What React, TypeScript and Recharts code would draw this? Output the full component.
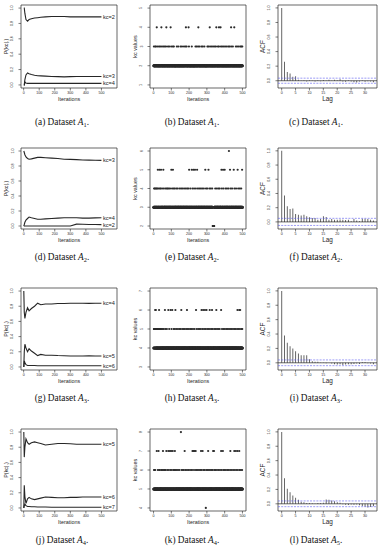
import React from 'react';
import {
  LineChart, Line, ScatterChart, Scatter, ComposedChart, Bar,
  XAxis, YAxis, ReferenceArea, ReferenceLine, LabelList,
} from 'recharts';

// ---------- data ----------
// iterations where the running probabilities were read off the traces
const iters = [1, 4, 8, 15, 25, 35, 50, 70, 90, 110, 140, 180, 220, 260, 300, 340, 380, 420, 460, 500];

// (a) A1: P(kc|.)
const a_kc2 = [1.0, 1.0, 0.93, 0.85, 0.83, 0.85, 0.86, 0.87, 0.875, 0.88, 0.885, 0.89, 0.89, 0.89, 0.885, 0.885, 0.885, 0.885, 0.885, 0.885];
const a_kc3 = [0.0, 0.0, 0.07, 0.13, 0.155, 0.145, 0.135, 0.125, 0.12, 0.118, 0.115, 0.11, 0.108, 0.105, 0.108, 0.11, 0.11, 0.11, 0.11, 0.11];
const a_kc4 = [0.0, 0.0, 0.04, 0.025, 0.02, 0.02, 0.02, 0.02, 0.02, 0.02, 0.02, 0.02, 0.02, 0.02, 0.02, 0.02, 0.02, 0.02, 0.02, 0.02];
// (d) A2
const d_kc3 = [1.0, 0.98, 0.95, 0.92, 0.9, 0.89, 0.895, 0.905, 0.915, 0.915, 0.91, 0.905, 0.9, 0.89, 0.888, 0.885, 0.88, 0.878, 0.876, 0.875];
const d_kc4 = [0.0, 0.02, 0.05, 0.08, 0.1, 0.12, 0.11, 0.1, 0.09, 0.09, 0.095, 0.1, 0.105, 0.11, 0.11, 0.11, 0.105, 0.105, 0.108, 0.11];
const d_kc2 = [0.0, 0.0, 0.0, 0.0, 0.0, 0.0, 0.0, 0.0, 0.0, 0.0, 0.0, 0.0, 0.0, 0.0, 0.0, 0.025, 0.023, 0.021, 0.019, 0.018];
// (g) A3
const g_kc4 = [1.0, 0.72, 0.64, 0.72, 0.78, 0.74, 0.77, 0.8, 0.84, 0.82, 0.83, 0.83, 0.835, 0.835, 0.84, 0.84, 0.84, 0.838, 0.84, 0.84];
const g_kc5 = [0.0, 0.2, 0.3, 0.25, 0.2, 0.24, 0.21, 0.18, 0.15, 0.165, 0.155, 0.155, 0.15, 0.148, 0.145, 0.145, 0.145, 0.147, 0.145, 0.145];
const g_kc6 = [0.0, 0.08, 0.06, 0.03, 0.02, 0.02, 0.02, 0.02, 0.015, 0.015, 0.015, 0.015, 0.015, 0.015, 0.015, 0.015, 0.015, 0.015, 0.015, 0.015];
// (j) A4
const j_kc5 = [1.0, 0.67, 0.8, 0.91, 0.86, 0.84, 0.86, 0.87, 0.86, 0.85, 0.83, 0.84, 0.85, 0.85, 0.845, 0.84, 0.84, 0.84, 0.84, 0.84];
const j_kc6 = [0.0, 0.3, 0.15, 0.06, 0.12, 0.14, 0.12, 0.11, 0.12, 0.13, 0.145, 0.14, 0.135, 0.135, 0.14, 0.14, 0.145, 0.145, 0.145, 0.145];
const j_kc7 = [0.0, 0.03, 0.05, 0.03, 0.02, 0.02, 0.015, 0.015, 0.012, 0.012, 0.012, 0.01, 0.01, 0.01, 0.01, 0.01, 0.01, 0.01, 0.01, 0.01];

// kc traces: iterations that sit off the modal value
const N_ITER = 500;
const b_kc3 = [2, 9, 14, 23, 31, 38, 47, 55, 63, 70, 81, 88, 99, 108, 114, 131, 139, 152, 160, 171, 179, 186, 199, 215, 236, 243, 251, 259, 270, 277, 286, 303, 309, 318, 327, 335, 344, 351, 362, 368, 379, 386, 395, 403, 412, 421, 428, 437, 446, 463, 470, 479, 488, 494, 499];
const b_kc4 = [18, 44, 72, 96, 182, 197, 252, 316, 353, 368, 377, 436, 454];
const e_kc4 = [3, 7, 12, 16, 21, 27, 35, 40, 48, 57, 66, 74, 79, 86, 93, 104, 112, 119, 128, 136, 147, 155, 163, 172, 181, 189, 196, 207, 219, 228, 238, 249, 257, 266, 274, 283, 295, 302, 314, 322, 330, 347, 356, 365, 372, 384, 393, 405, 413, 422, 434, 442, 455, 464, 476, 485, 493];
const e_kc5 = [24, 33, 42, 55, 100, 109, 200, 215, 224, 233, 245, 291, 309, 382, 391, 400, 430, 451, 473, 498];
const e_kc6 = [424];
const e_kc2 = [333, 334, 335, 336, 337, 338, 339, 340, 341];
const h_kc5 = [2, 4, 6, 7, 10, 15, 19, 22, 26, 29, 34, 37, 41, 46, 52, 58, 67, 75, 88, 101, 113, 120, 128, 137, 145, 152, 161, 169, 176, 184, 192, 199, 207, 214, 222, 231, 243, 251, 258, 266, 275, 284, 292, 301, 308, 317, 325, 332, 341, 349, 357, 364, 372, 385, 393, 401, 409, 416, 424, 431, 439, 447, 455, 462, 470, 478, 486, 494, 499];
const h_kc6 = [9, 13, 31, 64, 83, 96, 105, 123, 156, 188, 239, 270, 279, 289, 298, 316, 329, 353, 380, 472, 482, 487];
const k_kc6 = [3, 5, 9, 24, 31, 36, 44, 49, 57, 62, 68, 77, 86, 95, 103, 112, 117, 124, 131, 138, 146, 158, 165, 171, 180, 188, 196, 205, 213, 222, 233, 241, 249, 256, 264, 271, 280, 287, 296, 303, 311, 318, 326, 333, 342, 349, 357, 366, 374, 383, 392, 399, 407, 415, 423, 431, 440, 448, 457, 465, 474, 483, 491, 498];
const k_kc7 = [18, 28, 53, 72, 83, 92, 99, 108, 120, 175, 219, 224, 230, 237, 267, 276, 307, 335, 340, 380, 390, 432, 454, 463, 472, 482];
const k_kc8 = [154];
const k_kc4 = [294];

// autocorrelations, lags 0..33
const c_acf = [1.0, 0.26, 0.12, 0.1, 0.055, 0.06, 0.015, -0.005, 0.005, -0.01, 0.008, 0.004, -0.012, 0.006, -0.008, 0.01, -0.005, 0.012, 0.004, 0.015, 0.006, 0.02, -0.01, -0.015, 0.005, -0.012, -0.02, -0.025, -0.01, 0.006, -0.015, -0.008, -0.012, -0.02];
const f_acf = [1.0, 0.37, 0.22, 0.18, 0.19, 0.11, 0.1, 0.09, 0.1, 0.08, 0.065, 0.055, 0.055, 0.03, 0.04, 0.08, 0.07, 0.03, 0.04, 0.03, 0.03, 0.035, 0.03, 0.025, 0.03, 0.01, 0.04, 0.02, 0.01, 0.045, 0.045, 0.04, 0.03, 0.02];
const i_acf = [1.0, 0.38, 0.28, 0.23, 0.2, 0.16, 0.13, 0.105, 0.105, 0.105, 0.05, 0.02, 0.015, 0.015, 0.005, 0.003, -0.005, 0.002, -0.01, -0.02, -0.025, -0.02, -0.03, -0.025, -0.02, -0.02, -0.015, -0.01, -0.015, 0.01, 0.012, -0.005, -0.01, -0.02];
const l_acf = [1.0, 0.355, 0.21, 0.16, 0.115, 0.083, 0.055, 0.03, 0.02, 0.01, 0.012, 0.008, 0.005, 0.01, 0.012, 0.015, 0.06, 0.055, 0.045, 0.037, 0.023, 0.015, -0.005, -0.012, -0.015, -0.01, -0.012, -0.008, -0.02, -0.03, -0.04, -0.05, -0.045, -0.035];
const acfBounds = [0.035, 0.05, 0.04, 0.04];

const iterTicks = [0, 100, 200, 300, 400, 500];
const probTicks = [0, 0.2, 0.4, 0.6, 0.8, 1];
const lagTicks = [0, 5, 10, 15, 20, 25, 30];
const captions = [
  ['a', 'b', 'c'], ['d', 'e', 'f'], ['g', 'h', 'i'], ['j', 'k', 'l'],
];
const captionSubs = [['1', '1', '1'], ['2', '2', '2'], ['3', '3', '3'], ['4', '4', '5']];

// ---------- layout ----------
const INK = '#262626';
const SANS = '"Liberation Sans", Arial, sans-serif';
const SERIF = '"Liberation Serif", "Times New Roman", serif';

const COL_X = [21, 150, 278];
const COL_W = [96, 96, 99];
const ROW_Y = [5, 148, 288, 429];
const ROW_H = [83, 81, 82, 82];
const CAP_Y = [125, 260, 401, 543];
const CAP_X = [62, 192, 316];

const PL = 22, PT = 3, PR = 3, PB = 20;
const MARGIN = { top: PT, right: PR, left: 0, bottom: 0 };

type Box = { x: number; y: number; w: number; h: number };
const boxAt = (r: number, c: number): Box => ({ x: COL_X[c], y: ROW_Y[r], w: COL_W[c], h: ROW_H[r] });

function XTick(props: any) {
  const { x, y, payload } = props;
  return (
    <text x={x} y={y + 3} textAnchor="middle" fontSize={3.6} fontFamily={SANS} fill={INK}>
      {payload.value}
    </text>
  );
}

function YTick(props: any) {
  const { x, y, payload, digits } = props;
  const bx = x - 4.5;
  return (
    <text x={bx} y={y} transform={`rotate(-90 ${bx} ${y})`} textAnchor="middle" fontSize={3.6} fontFamily={SANS} fill={INK}>
      {payload.value.toFixed(digits)}
    </text>
  );
}

const tickLine = { stroke: INK, strokeWidth: 0.6 };
const boxStyle = { fill: 'none', fillOpacity: 0, stroke: INK, strokeWidth: 0.7 };

function Holder({ box, children }: { box: Box; children: React.ReactNode }) {
  return <div style={{ position: 'absolute', left: box.x - PL, top: box.y - PT }}>{children}</div>;
}

function TracePanel({ box, series, names }: { box: Box; series: number[][]; names: string[] }) {
  const data = iters.map((it, i) => {
    const row: Record<string, number> = { it };
    series.forEach((s, j) => { row[`s${j}`] = s[i]; });
    return row;
  });
  const xDom: [number, number] = [-17, 600];
  const yDom: [number, number] = [-0.04, 1.04];
  const last = iters.length - 1;
  return (
    <Holder box={box}>
      <LineChart width={box.w + PL + PR} height={box.h + PT + PB} data={data} margin={MARGIN}>
        <XAxis type="number" dataKey="it" domain={xDom} ticks={iterTicks} interval={0} height={PB}
          axisLine={false} tickLine={tickLine} tickSize={2.5} tickMargin={0.5} tick={<XTick />} allowDataOverflow />
        <YAxis type="number" domain={yDom} ticks={probTicks} interval={0} width={PL}
          axisLine={false} tickLine={tickLine} tickSize={2.5} tickMargin={0.5} tick={<YTick digits={1} />} allowDataOverflow />
        <ReferenceArea x1={xDom[0]} x2={xDom[1]} y1={yDom[0]} y2={yDom[1]} {...boxStyle} />
        {series.map((_, j) => (
          <Line key={j} dataKey={`s${j}`} type="linear" stroke={INK} strokeWidth={1.1} dot={false} isAnimationActive={false}>
            <LabelList dataKey={`s${j}`} content={(p: any) => (p.index === last ? (
              <text x={p.x + 1.5} y={p.y} dy="0.35em" fontSize={5.6} fontFamily={SANS} fill={INK}>{names[j]}</text>
            ) : null)} />
          </Line>
        ))}
      </LineChart>
    </Holder>
  );
}

function TraceDot(p: any) {
  return <circle cx={p.cx} cy={p.cy} r={p.rad} fill="#2a2a2a" stroke="none" />;
}

function KcPanel({ box, modal, others, yTicks }: { box: Box; modal: number; others: [number, number[]][]; yTicks: number[] }) {
  const taken = new Set(others.flatMap(([, its]) => its));
  const modalIts = Array.from({ length: N_ITER }, (_, i) => i + 1).filter((it) => !taken.has(it));
  const rows: [number, number[]][] = [[modal, modalIts], ...others];
  const xDom: [number, number] = [-20, 520];
  const yDom: [number, number] = [yTicks[0] - 0.16, yTicks[yTicks.length - 1] + 0.16];
  return (
    <Holder box={box}>
      <ScatterChart width={box.w + PL + PR} height={box.h + PT + PB} margin={MARGIN}>
        <XAxis type="number" dataKey="it" domain={xDom} ticks={iterTicks} interval={0} height={PB}
          axisLine={false} tickLine={tickLine} tickSize={2.5} tickMargin={0.5} tick={<XTick />} allowDataOverflow />
        <YAxis type="number" dataKey="kc" domain={yDom} ticks={yTicks} interval={0} width={PL}
          axisLine={false} tickLine={tickLine} tickSize={2.5} tickMargin={0.5} tick={<YTick digits={0} />} allowDataOverflow />
        <ReferenceArea x1={xDom[0]} x2={xDom[1]} y1={yDom[0]} y2={yDom[1]} {...boxStyle} />
        {rows.map(([kc, its], idx) => (
          <Scatter key={kc} data={its.map((it) => ({ it, kc }))} shape={<TraceDot rad={idx === 0 ? 1.5 : 1.1} />} isAnimationActive={false} />
        ))}
      </ScatterChart>
    </Holder>
  );
}

function AcfPanel({ box, acf, bound }: { box: Box; acf: number[]; bound: number }) {
  const data = acf.map((v, lag) => ({ lag, v }));
  const xDom: [number, number] = [-1.32, 34.32];
  const yDom: [number, number] = [-0.1, 1.04];
  return (
    <Holder box={box}>
      <ComposedChart width={box.w + PL + PR} height={box.h + PT + PB} data={data} margin={MARGIN}>
        <XAxis type="number" dataKey="lag" domain={xDom} ticks={lagTicks} interval={0} height={PB}
          axisLine={false} tickLine={tickLine} tickSize={2.5} tickMargin={0.5} tick={<XTick />} allowDataOverflow />
        <YAxis type="number" domain={yDom} ticks={probTicks} interval={0} width={PL}
          axisLine={false} tickLine={tickLine} tickSize={2.5} tickMargin={0.5} tick={<YTick digits={1} />} allowDataOverflow />
        <ReferenceArea x1={xDom[0]} x2={xDom[1]} y1={yDom[0]} y2={yDom[1]} {...boxStyle} />
        <Bar dataKey="v" barSize={0.9} fill="#555" isAnimationActive={false} />
        <ReferenceLine y={0} stroke={INK} strokeWidth={0.7} />
        <ReferenceLine y={bound} stroke="#5a5af0" strokeWidth={0.6} strokeDasharray="2 1.2" />
        <ReferenceLine y={-bound} stroke="#5a5af0" strokeWidth={0.6} strokeDasharray="2 1.2" />
      </ComposedChart>
    </Holder>
  );
}

const traceRows = [
  { series: [a_kc2, a_kc3, a_kc4], names: ['kc=2', 'kc=3', 'kc=4'] },
  { series: [d_kc3, d_kc4, d_kc2], names: ['kc=3', 'kc=4', 'kc=2'] },
  { series: [g_kc4, g_kc5, g_kc6], names: ['kc=4', 'kc=5', 'kc=6'] },
  { series: [j_kc5, j_kc6, j_kc7], names: ['kc=5', 'kc=6', 'kc=7'] },
];
const kcRows: { modal: number; others: [number, number[]][]; yTicks: number[] }[] = [
  { modal: 2, others: [[3, b_kc3], [4, b_kc4]], yTicks: [1, 2, 3, 4, 5] },
  { modal: 3, others: [[4, e_kc4], [5, e_kc5], [6, e_kc6], [2, e_kc2]], yTicks: [2, 3, 4, 5, 6] },
  { modal: 4, others: [[5, h_kc5], [6, h_kc6]], yTicks: [3, 4, 5, 6, 7] },
  { modal: 5, others: [[6, k_kc6], [7, k_kc7], [8, k_kc8], [4, k_kc4]], yTicks: [4, 5, 6, 7, 8] },
];
const acfRows = [c_acf, f_acf, i_acf, l_acf];

function Titles() {
  const out: React.ReactNode[] = [];
  ROW_Y.forEach((ry, r) => {
    const bottom = ry + ROW_H[r];
    const mid = ry + ROW_H[r] / 2;
    const yTitles = ['P(kc|.)', 'kc values', 'ACF'];
    const xTitles = ['Iterations', 'Iterations', 'Lag'];
    [0, 1, 2].forEach((c) => {
      const cx = COL_X[c] + COL_W[c] / 2;
      const fs = c === 2 ? 6.4 : 5.4;
      const tx = COL_X[c] - 13;
      out.push(
        <text key={`x${r}${c}`} x={cx} y={bottom + 13} textAnchor="middle" fontSize={fs} fontFamily={SANS} fill={INK}>{xTitles[c]}</text>,
        <text key={`y${r}${c}`} x={tx} y={mid} transform={`rotate(-90 ${tx} ${mid})`} textAnchor="middle" fontSize={fs} fontFamily={SANS} fill={INK}>{yTitles[c]}</text>,
        <text key={`c${r}${c}`} x={CAP_X[c]} y={CAP_Y[r]} textAnchor="middle" fontSize={9.3} fontFamily={SERIF} fill="#111">
          ({captions[r][c]}) Dataset <tspan fontStyle="italic">A</tspan>
          <tspan fontSize={6.4} dy={1.8}>{captionSubs[r][c]}</tspan>
          <tspan dy={-1.8}>.</tspan>
        </text>,
      );
    });
  });
  return <svg width={380} height={550} style={{ position: 'absolute', left: 0, top: 0, pointerEvents: 'none' }}>{out}</svg>;
}

export default function App() {
  return (
    <div style={{ position: 'absolute', left: 0, top: 0, width: 380, height: 550, background: '#fff', overflow: 'hidden' }}>
      {traceRows.map((t, r) => <TracePanel key={`t${r}`} box={boxAt(r, 0)} series={t.series} names={t.names} />)}
      {kcRows.map((k, r) => <KcPanel key={`k${r}`} box={boxAt(r, 1)} modal={k.modal} others={k.others} yTicks={k.yTicks} />)}
      {acfRows.map((a, r) => <AcfPanel key={`a${r}`} box={boxAt(r, 2)} acf={a} bound={acfBounds[r]} />)}
      <Titles />
    </div>
  );
}
